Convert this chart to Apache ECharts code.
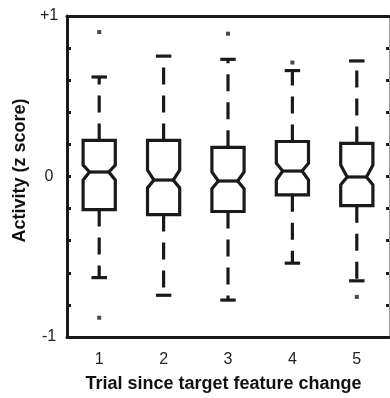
<!DOCTYPE html>
<html>
<head>
<meta charset="utf-8">
<script src="https://cdn.jsdelivr.net/npm/echarts@6/dist/echarts.min.js"></script>
<style>
html,body{margin:0;padding:0;background:#fff;}
#chart{width:390px;height:398px;}
</style>
</head>
<body>
<div id="chart"></div>
<script>
// ---- data ----
const categories   = ['1', '2', '3', '4', '5'];
const lowerWhisker = [-0.63, -0.74, -0.77, -0.54, -0.65];
const q1           = [-0.206, -0.237, -0.218, -0.114, -0.182];
const notchLow     = [-0.022, -0.071, -0.077, -0.022, -0.052];
const median       = [0.028, -0.022, -0.028, 0.034, -0.003];
const notchHigh    = [0.071, 0.040, 0.028, 0.083, 0.071];
const q3           = [0.225, 0.225, 0.182, 0.218, 0.206];
const upperWhisker = [0.62, 0.75, 0.73, 0.66, 0.72];
const outlierCategory = [0, 0, 2, 3, 4];
const outlierValue    = [0.90, -0.88, 0.89, 0.71, -0.75];
const yTickValues = [-1, 0, 1];
const yTickLabels = ['-1', '0', '+1'];
const xTitle = 'Trial since target feature change';
const yTitle = 'Activity (z score)';

const boxData = categories.map((c, i) => [i, lowerWhisker[i], q1[i], notchLow[i], median[i], notchHigh[i], q3[i], upperWhisker[i]]);
const outlierData = outlierCategory.map((c, i) => [c, outlierValue[i]]);

const INK = '#1a1a1a';
const FONT = '"Liberation Sans", Arial, sans-serif';

function renderBox(params, api) {
  const idx = api.value(0);
  const band = api.size([1, 0])[0];
  const cx = api.coord([idx, 0])[0];
  const y = k => api.coord([idx, api.value(k)])[1];
  const yLow = y(1), yQ1 = y(2), yNLo = y(3), yMed = y(4), yNHi = y(5), yQ3 = y(6), yHigh = y(7);
  const hw = band * 0.25, inset = band * 0.1, cap = band * 0.12;
  const L = cx - hw, R = cx + hw;
  const lineStyle = {stroke: INK, lineWidth: 3.2, fill: null};
  const dashStyle = {stroke: INK, lineWidth: 3.2, lineDash: [17, 11]};
  return {
    type: 'group',
    children: [
      {type: 'line', shape: {x1: cx, y1: yQ3, x2: cx, y2: yHigh}, style: dashStyle},
      {type: 'line', shape: {x1: cx, y1: yQ1, x2: cx, y2: yLow}, style: dashStyle},
      {type: 'line', shape: {x1: cx - cap, y1: yHigh, x2: cx + cap, y2: yHigh}, style: lineStyle},
      {type: 'line', shape: {x1: cx - cap, y1: yLow, x2: cx + cap, y2: yLow}, style: lineStyle},
      {type: 'polygon', shape: {points: [
        [L, yQ3], [R, yQ3], [R, yNHi], [R - inset, yMed], [R, yNLo], [R, yQ1],
        [L, yQ1], [L, yNLo], [L + inset, yMed], [L, yNHi]
      ]}, style: {stroke: INK, lineWidth: 3.2, fill: '#fff', lineJoin: 'miter'}},
      {type: 'line', shape: {x1: L + inset, y1: yMed, x2: R - inset, y2: yMed}, style: lineStyle}
    ]
  };
}

const chart = echarts.init(document.getElementById('chart'), null, {renderer: 'canvas'});
chart.setOption({
  backgroundColor: '#fff',
  animation: false,
  grid: {left: 67, right: 1, top: 16, bottom: 57},
  xAxis: [{
    type: 'category', data: categories, position: 'bottom', boundaryGap: true,
    axisLine: {onZero: false, lineStyle: {color: INK, width: 3}},
    axisTick: {alignWithLabel: true, inside: true, length: 4, lineStyle: {color: INK, width: 3}},
    axisLabel: {color: '#222', fontSize: 16, fontFamily: FONT, margin: 15},
    name: xTitle, nameLocation: 'middle', nameGap: 38,
    nameTextStyle: {color: '#111', fontSize: 18, fontWeight: 'bold', fontFamily: FONT, padding: [0, 9, 0, 0]}
  }, {
    type: 'category', data: categories, position: 'top', boundaryGap: true,
    axisLine: {onZero: false, lineStyle: {color: INK, width: 3}},
    axisTick: {alignWithLabel: true, inside: true, length: 4, lineStyle: {color: INK, width: 3}},
    axisLabel: {show: false}
  }],
  yAxis: [{
    type: 'value', min: -1, max: 1, interval: 0.2, position: 'left',
    splitLine: {show: false},
    axisLine: {show: true, onZero: false, lineStyle: {color: INK, width: 3}},
    axisTick: {show: true, inside: true, length: 4, lineStyle: {color: INK, width: 3}},
    axisLabel: {
      color: '#222', fontSize: 16, fontFamily: FONT, margin: 18, align: 'center',
      formatter: v => {
        const k = yTickValues.findIndex(t => Math.abs(t - v) < 1e-6);
        return k >= 0 ? yTickLabels[k] : '';
      }
    },
    name: yTitle, nameLocation: 'middle', nameGap: 37, nameRotate: 90,
    nameTextStyle: {color: '#111', fontSize: 18, fontWeight: 'bold', fontFamily: FONT, padding: [0, 0, 0, 12]}
  }, {
    type: 'value', min: -1, max: 1, interval: 0.2, position: 'right',
    splitLine: {show: false},
    axisLine: {show: true, onZero: false, lineStyle: {color: '#9a9a9a', width: 1}},
    axisTick: {show: true, inside: true, length: 3, lineStyle: {color: INK, width: 3}},
    axisLabel: {show: false}
  }],
  series: [{
    type: 'custom', renderItem: renderBox, data: boxData,
    encode: {x: 0, y: [1, 2, 3, 4, 5, 6, 7]}, z: 3
  }, {
    type: 'scatter', data: outlierData, symbol: 'rect', symbolSize: 4,
    itemStyle: {color: INK}, z: 4
  }]
});
</script>
</body>
</html>
